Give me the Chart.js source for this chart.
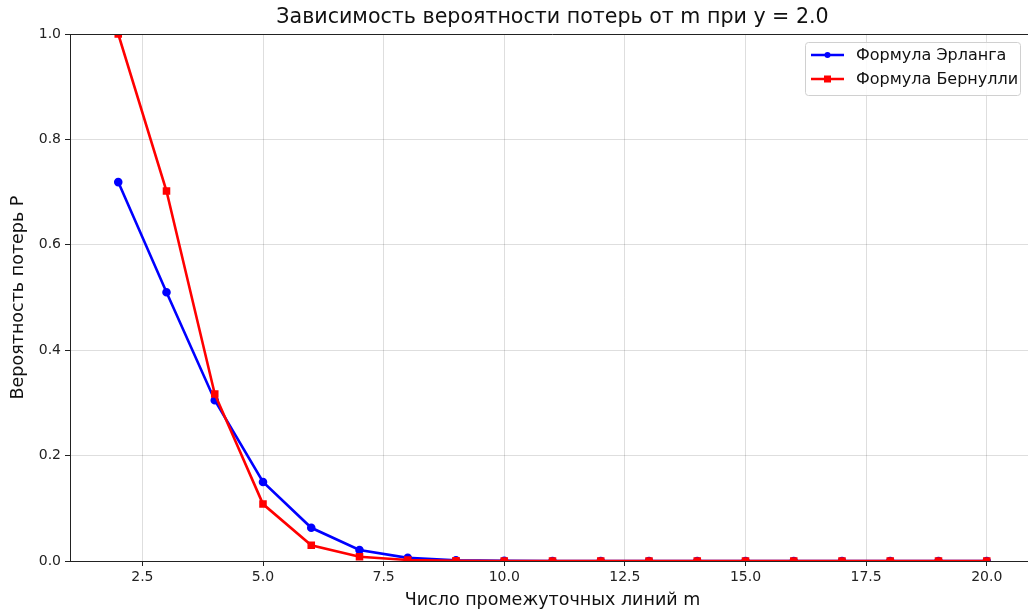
<!DOCTYPE html>
<html lang="ru">

<head>
  <meta charset="UTF-8" />
  <title>Вероятность потерь</title>
  <script src="https://cdn.jsdelivr.net/npm/chart.js"></script>
  <style>
    html, body { margin: 0; padding: 0; background: #fff; overflow: hidden; }
    /* the reference plot runs a little past the right edge of the picture */
    #wrap { width: 1036px; height: 612px; }
  </style>
</head>

<body>
  <div id="wrap"><canvas id="lossChart"></canvas></div>

  <script>
    // data
    const mValues = [2, 3, 4, 5, 6, 7, 8, 9, 10, 11, 12, 13, 14, 15, 16, 17, 18, 19, 20];
    const erlang = [0.719, 0.510, 0.305, 0.150, 0.063, 0.021, 0.006, 0.0015, 0.0003, 0.0001, 0, 0, 0, 0, 0, 0, 0, 0, 0];
    const bernoulli = [1.0, 0.702, 0.317, 0.108, 0.030, 0.008, 0.002, 0.0004, 0.0001, 0, 0, 0, 0, 0, 0, 0, 0, 0, 0];
    const xTicks = [2.5, 5.0, 7.5, 10.0, 12.5, 15.0, 17.5, 20.0];
    const yTicks = [0, 0.2, 0.4, 0.6, 0.8, 1.0];

    const FONT = "'DejaVu Sans', sans-serif";

    // title, top spine and the legend box inside the plot
    const decor = {
      id: "decor",
      afterDraw(chart) {
        const ctx = chart.ctx;
        const a = chart.chartArea;
        ctx.save();
        ctx.strokeStyle = "#222";
        ctx.lineWidth = 1;
        ctx.beginPath();
        ctx.moveTo(a.left, a.top + 0.5);
        ctx.lineTo(a.right, a.top + 0.5);
        ctx.stroke();

        ctx.fillStyle = "#111";
        ctx.font = "20.6px " + FONT;
        ctx.textAlign = "center";
        ctx.textBaseline = "middle";
        ctx.fillText("Зависимость вероятности потерь от m при y = 2.0", (a.left + a.right) / 2, 18);

        // legend
        const bx = 805, by = 42, bw = 215, bh = 53;
        ctx.fillStyle = "rgba(255,255,255,0.85)";
        ctx.strokeStyle = "#d0d0d0";
        ctx.beginPath();
        ctx.roundRect(bx + 0.5, by + 0.5, bw, bh, 3);
        ctx.fill();
        ctx.stroke();
        chart.data.datasets.forEach((ds, i) => {
          const y = by + 13 + i * 24;
          ctx.strokeStyle = ds.borderColor;
          ctx.lineWidth = 2.5;
          ctx.beginPath();
          ctx.moveTo(811, y);
          ctx.lineTo(844, y);
          ctx.stroke();
          ctx.fillStyle = ds.borderColor;
          if (ds.pointStyle === "rect") {
            ctx.fillRect(827.5 - 3.5, y - 3.5, 7, 7);
          } else {
            ctx.beginPath();
            ctx.arc(827.5, y, 3, 0, Math.PI * 2);
            ctx.fill();
          }
          ctx.fillStyle = "#111";
          ctx.font = "16px " + FONT;
          ctx.textAlign = "left";
          ctx.fillText(ds.label, 856, y + 1);
        });
        ctx.restore();
      }
    };

    new Chart(document.getElementById("lossChart"), {
      type: "line",
      data: {
        datasets: [{
          label: "Формула Эрланга",
          data: mValues.map((m, i) => ({ x: m, y: erlang[i] })),
          borderColor: "#0000ff",
          backgroundColor: "#0000ff",
          borderWidth: 2.6,
          pointStyle: "circle",
          pointRadius: 3,
          pointHoverRadius: 3,
          tension: 0,
          order: 2
        }, {
          label: "Формула Бернулли",
          data: mValues.map((m, i) => ({ x: m, y: bernoulli[i] })),
          borderColor: "#ff0000",
          backgroundColor: "#ff0000",
          borderWidth: 2.6,
          pointStyle: "rect",
          pointRadius: 3.5,
          pointHoverRadius: 3.5,
          tension: 0,
          order: 1
        }]
      },
      options: {
        responsive: true,
        maintainAspectRatio: false,
        animation: false,
        layout: { autoPadding: false, padding: { top: 34, right: 1, left: 0, bottom: 0 } },
        plugins: {
          legend: { display: false },
          title: { display: false },
          tooltip: { enabled: false }
        },
        scales: {
          x: {
            type: "linear",
            min: 1.0,
            max: 21.0,
            afterBuildTicks: s => { s.ticks = xTicks.map(v => ({ value: v })); },
            afterFit: s => { s.height = 51; },
            ticks: {
              callback: v => v.toFixed(1),
              color: "#222",
              font: { family: FONT, size: 14 },
              padding: 3,
              maxRotation: 0
            },
            grid: { color: "rgba(0,0,0,0.13)", tickColor: "#222", tickLength: 5 },
            border: { color: "#222", width: 1 },
            title: {
              display: true,
              text: "Число промежуточных линий m",
              color: "#111",
              font: { family: FONT, size: 17.5 },
              padding: { top: 2, bottom: 1 }
            }
          },
          y: {
            min: 0,
            max: 1,
            afterBuildTicks: s => { s.ticks = yTicks.map(v => ({ value: v })); },
            afterFit: s => { s.width = 70; },
            ticks: {
              callback: v => v.toFixed(1),
              color: "#222",
              font: { family: FONT, size: 14 },
              padding: 4
            },
            grid: { color: "rgba(0,0,0,0.13)", tickColor: "#222", tickLength: 5 },
            border: { color: "#222", width: 1 },
            title: {
              display: true,
              text: "Вероятность потерь P",
              color: "#111",
              font: { family: FONT, size: 17.5 },
              padding: { top: 8, bottom: 2 }
            }
          }
        }
      },
      plugins: [decor]
    });
  </script>
</body>

</html>
